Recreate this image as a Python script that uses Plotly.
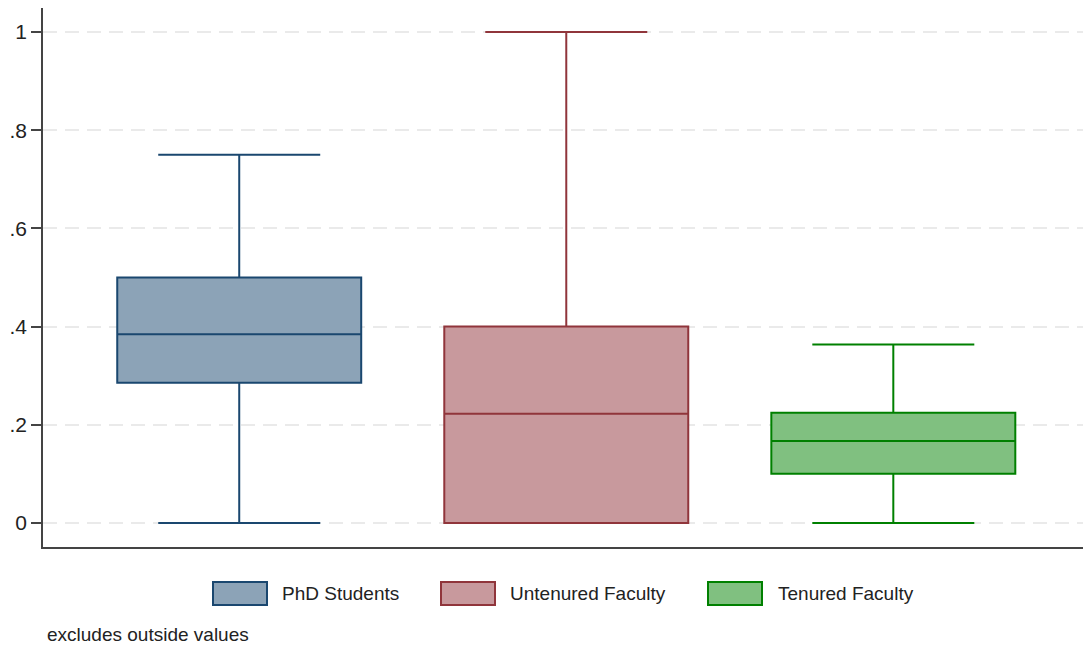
import plotly.graph_objects as go

# Box summaries per group
groups = ["PhD Students", "Untenured Faculty", "Tenured Faculty"]
lower_adj = [0.0, 0.0, 0.0]
q1_vals = [0.2857, 0.0, 0.1]
medians = [0.3846, 0.2222, 0.1667]
q3_vals = [0.5, 0.4, 0.2245]
upper_adj = [0.75, 1.0, 0.3636]

y_tickvals = [0, 0.2, 0.4, 0.6, 0.8, 1]
y_ticktext = ["0", ".2", ".4", ".6", ".8", "1"]

line_colors = ["#1a476f", "#90353b", "#008000"]
fill_colors = ["#8ca3b7", "#c8999d", "#80c080"]

W, H = 1083, 647
L, R, T, B = 43, 0, 8, 100
PW, PH = W - L - R, H - T - B

fig = go.Figure()
for i, g in enumerate(groups):
    fig.add_trace(go.Box(
        x=[i], name=g,
        q1=[q1_vals[i]], median=[medians[i]], q3=[q3_vals[i]],
        lowerfence=[lower_adj[i]], upperfence=[upper_adj[i]],
        width=0.746, whiskerwidth=0.664,
        fillcolor=fill_colors[i],
        line=dict(color=line_colors[i], width=2),
        boxpoints=False, showlegend=False, hoverinfo="skip",
    ))

def px_x(p):
    return (p - L) / PW

def px_y(p):
    return (H - B - p) / PH

# Legend keys drawn as outlined swatches with labels
legend_key_x = [213, 441, 708]
legend_text_x = [280, 508, 776]
shapes = []
annotations = []
for i, g in enumerate(groups):
    shapes.append(dict(
        type="rect", xref="paper", yref="paper",
        x0=px_x(legend_key_x[i]), x1=px_x(legend_key_x[i] + 54),
        y0=px_y(605), y1=px_y(582),
        fillcolor=fill_colors[i], line=dict(color=line_colors[i], width=2),
    ))
    annotations.append(dict(
        text=g, xref="paper", yref="paper",
        x=px_x(legend_text_x[i]), y=px_y(593.5),
        xanchor="left", yanchor="middle", showarrow=False,
        font=dict(size=19, color="#222222"),
    ))
annotations.append(dict(
    text="excludes outside values", xref="paper", yref="paper",
    x=px_x(45), y=px_y(634), xanchor="left", yanchor="middle",
    showarrow=False, font=dict(size=19, color="#222222"),
))

fig.update_layout(
    width=W, height=H,
    margin=dict(l=L, r=R, t=T, b=B),
    paper_bgcolor="white", plot_bgcolor="white",
    font=dict(family="Liberation Sans, Arial, sans-serif", color="#222222"),
    xaxis=dict(
        range=[-0.6, 2.58], showticklabels=False, ticks="",
        showgrid=False, zeroline=False,
        showline=True, linecolor="#444444", linewidth=1.5,
    ),
    yaxis=dict(
        range=[-0.049, 1.049],
        tickvals=y_tickvals, ticktext=y_ticktext,
        ticks="outside", ticklen=10, tickwidth=1.5, tickcolor="#444444",
        tickfont=dict(size=21, color="#222222"),
        showgrid=True, gridcolor="#eaeaea", gridwidth=1.5, griddash="14px,8px",
        zeroline=False,
        showline=True, linecolor="#444444", linewidth=1.5,
    ),
    shapes=shapes, annotations=annotations,
)

fig.write_html("out.html")
